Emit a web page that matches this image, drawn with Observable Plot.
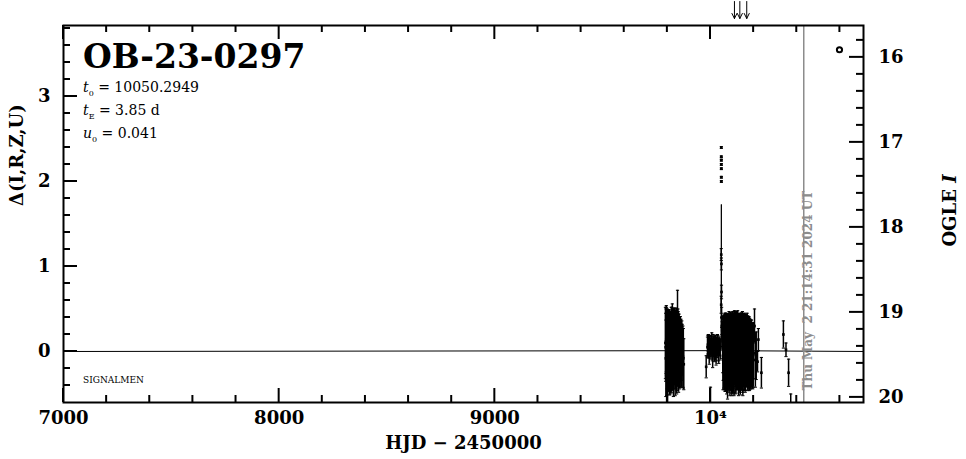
<!DOCTYPE html>
<html><head><meta charset="utf-8">
<script src="https://cdn.jsdelivr.net/npm/d3@7"></script>
<script src="https://cdn.jsdelivr.net/npm/@observablehq/plot@0.6"></script>
<style>
html,body{margin:0;padding:0;background:#fff;color:#000;}
svg{display:block;}
</style></head><body><div id="chart"></div>
<script>
// ---- labels / text ----
const eventName = "OB-23-0297";
const paramT0 = "10050.2949";
const paramTE = "3.85 d";
const paramU0 = "0.041";
const surveyTag = "SIGNALMEN";
const nowHJD = 10432.4;
const nowLabel = "Thu May  2 21:14:31 2024 UT";
const xTitle = "HJD \u2212 2450000";
const yTitle = "\u0394(I,R,Z,U)";
const baseMag = 19.46;

// ---- ticks ----
const xMajor = [7000, 8000, 9000, 10000];
const xLabels = ["7000", "8000", "9000", "10\u2074"];
const yMajor = [0, 1, 2, 3];
const yLabels = ["0", "1", "2", "3"];
const magMajor = [16, 17, 18, 19, 20];
const magLabels = ["16", "17", "18", "19", "20"];

// ---- observations: HJD-2450000, Delta, error ----
const obsHJD = [
 9791,9792,9793,9794,9795,9796,9797,9798,9799,9800,9801,9802,9803,9804,9805,9806,9807,9808,9809,9810,9811,
 9812,9813,9814,9815,9816,9817,9818,9819,9820,9821,9822,9823,9824,9825,9826,9827,9828,9829,9830,9831,9832,9833,
 9834,9835,9836,9837,9838,9839,9840,9841,9842,9843,9844,9845,9846,9847,9848,9849,9850,9851,9852,9854,9855,9857,9858,
 9860,9861,9863,9865,9867,9869,9872,9874,9876,
 9980,10000,9986,9988,9990,9992,9994,9996,9998,10000,10002,10004,10006,10008,10010,10012,10014,10016,10018,10020,10022,10024,
 10026,10028,10030,10032,10034,10036,10038,10040,10042,10045,
 10050.1,10050.15,10050.2,10050.25,10050.3,10050.35,10050.4,
 10049.6,10049.9,10050.6,10051.0,10051.5,
 10053,10054,10055,10056,10057,10058,10059,10060,10061,10062,10063,10064,10065,10066,10067,10068,10069,10070,10071,10072,
 10073,10074,10075,10076,10077,10078,10079,10080,10081,10082,10083,10084,10085,10086,10087,10088,10089,10090,10091,10092,
 10093,10094,10095,10096,10097,10098,10099,10100,10101,10102,10103,10104,10105,10106,10107,10108,10109,10110,10111,10112,
 10113,10114,10115,10116,10117,10118,10119,10120,10121,10122,10123,10124,10125,10126,10127,10128,10129,10130,10131,10132,
 10133,10134,10135,10136,10137,10138,10139,10140,10141,10142,10143,10144,10145,10146,10147,10148,10149,10150,10151,10152,
 10153,10154,10155,10156,10157,10158,10159,10160,10161,10162,10163,10164,10165,10166,10167,10168,10169,10170,10171,10172,
 10173,10174,10175,10176,10177,10178,10179,10180,10182,10184,10186,10188,10190,10192,10194,10196,10198,10200,
 10204,10208,10212,10218,10222,10236,
 10338,10350,10362,10372
];
const obsDelta = [
 0.10,0.05,-0.08,0.12,0.15,0.12,-0.05,0.10,0.00,0.15,-0.10,0.06,0.03,0.11,-0.04,0.09,0.01,0.13,-0.07,0.04,0.10,
 -0.02,0.07,0.00,0.12,-0.06,0.05,0.02,0.14,-0.03,0.08,0.01,0.10,-0.05,0.06,0.03,0.11,-0.08,0.04,0.09,0.05,0.00,0.08,
 0.07,0.02,-0.04,0.06,0.12,0.01,0.02,0.09,0.06,-0.03,-0.06,0.05,0.10,0.45,0.03,0.06,0.08,0.01,-0.02,0.04,0.05,-0.03,0.00,
 0.03,0.04,-0.02,-0.05,0.01,0.02,-0.06,-0.08,-0.15,
 -0.18,-0.80,0.05,0.08,0.10,0.04,-0.02,0.06,0.08,0.05,0.03,0.07,0.12,0.02,-0.05,0.09,0.06,0.03,0.00,0.08,0.09,0.01,
 -0.03,0.06,0.04,0.10,0.07,0.02,-0.01,0.06,0.05,0.02,
 2.40,2.29,2.25,2.20,2.15,2.05,2.00,
 0.55,1.14,1.03,0.70,0.40,
 0.30,0.25,0.18,0.12,0.05,-0.05,0.04,0.02,0.08,-0.01,-0.03,0.05,0.03,0.00,0.07,-0.04,-0.06,0.04,0.06,0.01,
 0.09,0.02,-0.04,0.06,0.00,0.02,-0.08,0.05,0.08,0.00,0.03,0.05,-0.03,0.06,0.10,-0.01,0.02,-0.05,0.07,0.04,
 0.03,-0.02,0.08,0.11,0.01,-0.04,-0.06,0.06,0.02,0.04,-0.01,0.05,0.09,-0.03,0.00,0.05,-0.07,0.03,0.08,0.02,
 0.06,-0.03,0.10,0.01,0.04,-0.05,0.07,0.07,0.01,0.03,0.06,-0.02,0.05,0.09,-0.01,0.03,0.06,-0.04,0.02,0.08,
 0.04,0.00,-0.03,0.05,0.08,-0.06,0.02,0.07,0.00,0.02,0.05,-0.01,0.03,0.10,0.06,0.03,-0.02,-0.05,0.04,0.01,
 0.06,0.03,-0.02,0.01,0.05,0.00,0.04,-0.01,-0.03,-0.02,0.07,0.03,0.08,0.04,0.01,0.00,-0.02,0.02,0.05,-0.01,
 -0.02,0.03,-0.01,0.03,0.00,-0.04,0.02,-0.06,-0.03,0.02,-0.04,0.00,-0.03,0.00,-0.05,-0.08,-0.04,-0.02,
 0.30,-0.10,-0.05,-0.12,0.14,-0.25,
 0.20,0.02,-0.25,-0.80
];
const obsErr = [
 0.42,0.40,0.45,0.38,0.39,0.40,0.47,0.36,0.44,0.35,0.50,0.40,0.46,0.33,0.42,0.39,0.48,0.36,0.44,0.41,0.37,
 0.49,0.40,0.45,0.34,0.43,0.42,0.50,0.33,0.40,0.44,0.38,0.46,0.41,0.37,0.47,0.35,0.45,0.40,0.42,0.43,0.39,0.41,
 0.44,0.46,0.48,0.40,0.36,0.45,0.41,0.38,0.45,0.47,0.40,0.42,0.37,0.27,0.43,0.44,0.39,0.42,0.46,0.40,0.36,0.41,0.41,
 0.38,0.33,0.40,0.37,0.35,0.30,0.36,0.35,0.30,
 0.13,0.38,0.12,0.11,0.10,0.12,0.13,0.12,0.11,0.10,0.12,0.11,0.10,0.13,0.14,0.11,0.11,0.12,0.12,0.10,0.10,0.12,
 0.13,0.11,0.11,0.10,0.12,0.13,0.13,0.11,0.10,0.12,
 0.01,0.01,0.01,0.01,0.01,0.01,0.01,
 0.10,0.07,0.07,0.08,0.12,
 0.10,0.10,0.12,0.20,0.30,0.40,0.38,0.36,0.33,0.42,0.42,0.38,0.40,0.45,0.34,0.43,0.41,0.37,0.39,0.44,
 0.32,0.41,0.46,0.35,0.44,0.40,0.48,0.39,0.36,0.43,0.40,0.39,0.45,0.41,0.33,0.44,0.41,0.47,0.36,0.42,
 0.40,0.44,0.36,0.32,0.42,0.45,0.46,0.37,0.43,0.41,0.48,0.40,0.34,0.45,0.43,0.38,0.45,0.42,0.40,0.36,
 0.38,0.47,0.33,0.42,0.42,0.44,0.38,0.38,0.46,0.41,0.35,0.43,0.40,0.39,0.44,0.41,0.36,0.48,0.42,0.34,
 0.38,0.42,0.45,0.38,0.35,0.45,0.43,0.36,0.44,0.43,0.40,0.45,0.39,0.35,0.37,0.44,0.46,0.47,0.40,0.42,
 0.37,0.39,0.44,0.42,0.39,0.45,0.38,0.44,0.45,0.44,0.34,0.40,0.34,0.39,0.41,0.41,0.40,0.43,0.36,0.40,
 0.44,0.38,0.42,0.38,0.40,0.40,0.39,0.40,0.42,0.35,0.40,0.37,0.40,0.33,0.38,0.36,0.38,0.30,
 0.20,0.32,0.28,0.12,0.13,0.18,
 0.16,0.08,0.16,0.30
];

// ---- model curve ----
const modelHJD = [7000, 10046, 10048, 10049.5, 10050.29, 10051, 10052.5, 10055, 10710];
const modelDelta = [0, 0.01, 0.05, 0.40, 1.73, 0.40, 0.05, 0.01, 0];

// ---- alerts / prediction marker ----
const alertHJD = [10111, 10136, 10168];
const predHJD = [10598];
const predDelta = [3.55];

// ---- layout ----
const W = 966, H = 459;
const mL = 63, mR = 103, mT = 25, mB = 57;
const FW = W - mL - mR, FH = H - mT - mB;
const FONT = "DejaVu Serif";
const xDom = [7000, 10709.4], yDom = [-0.6, 3.835];
const LMAJ = 14, LMIN = 7;              // tick lengths in px

const obs = obsHJD.map((t, i) => ({t, d: obsDelta[i], e: obsErr[i]}));
const model = modelHJD.map((t, i) => ({t, d: modelDelta[i]}));
const pred = predHJD.map((t, i) => ({t, d: predDelta[i]}));

const capSymbol = {draw(ctx, size) { const w = Math.sqrt(size / Math.PI); ctx.moveTo(-w, 0); ctx.lineTo(w, 0); }};
const arrowShape = {draw(ctx, l) { ctx.moveTo(0, 0); ctx.lineTo(0, -l); ctx.moveTo(-2.5, -l + 5); ctx.lineTo(0, -l); ctx.lineTo(2.5, -l + 5); }};

const xMinor = d3.range(7200, 10700, 200).filter(v => v % 1000 !== 0);
const yMinor = d3.range(-4, 39, 2).map(v => v / 10).filter(v => v % 1 !== 0);
const magMinor = d3.range(158, 201, 2).map(v => v / 10).filter(v => v % 1 !== 0);
const m2d = m => baseMag - m;

const svg = Plot.plot({
  width: W, height: H,
  marginLeft: mL, marginRight: mR, marginTop: mT, marginBottom: mB,
  x: {domain: xDom, axis: null},
  y: {domain: yDom, axis: null},
  style: {fontFamily: FONT, background: "white", color: "black", overflow: "visible"},
  marks: [
    // error bars
    Plot.ruleX(obs, {x: "t", y1: d => d.d - d.e, y2: d => d.d + d.e, stroke: "black", strokeWidth: 1.5, clip: true}),
    Plot.dot(obs, {x: "t", y: d => d.d + d.e, symbol: capSymbol, r: 1.6, stroke: "black", strokeWidth: 1, clip: true}),
    Plot.dot(obs, {x: "t", y: d => d.d - d.e, symbol: capSymbol, r: 1.6, stroke: "black", strokeWidth: 1, clip: true}),
    Plot.dot(obs, {x: "t", y: "d", symbol: "square", r: 1.5, fill: "black", clip: true}),
    // model
    Plot.line(model, {x: "t", y: "d", stroke: "black", strokeWidth: 1, clip: true}),
    // now line
    Plot.ruleX([nowHJD], {x: d => d, stroke: "#8c8c8c", strokeWidth: 1.5}),
    Plot.text([nowLabel], {x: () => nowHJD, frameAnchor: "bottom", rotate: -90, textAnchor: "start", dx: 8, dy: -12,
      fill: "#8c8c8c", fontSize: 12, fontWeight: "bold", fontFamily: "DejaVu Serif"}),
    // prediction circle
    Plot.dot(pred, {x: "t", y: "d", r: 2.6, stroke: "black", strokeWidth: 2, fill: "none"}),
    // alert arrows
    Plot.vector(alertHJD, {x: d => d, frameAnchor: "top", length: 17, rotate: 180, anchor: "start", dy: -24,
      shape: arrowShape, stroke: "black", strokeWidth: 1}),
    // tick labels
    Plot.text(xMajor, {x: d => d, text: (d, i) => xLabels[i], frameAnchor: "bottom", dy: 21,
      fontSize: 18, fontWeight: "bold", fill: "black"}),
    Plot.text(yMajor, {y: d => d, text: (d, i) => yLabels[i], frameAnchor: "left", dx: -13, textAnchor: "end",
      fontSize: 18, fontWeight: "bold", fill: "black"}),
    Plot.text(magMajor, {y: m2d, text: (d, i) => magLabels[i], frameAnchor: "right", dx: 15, textAnchor: "start",
      fontSize: 18, fontWeight: "bold", fill: "black"}),
    // axis titles
    Plot.text([xTitle], {frameAnchor: "bottom", dy: 46, fontSize: 18, fontWeight: "bold", fill: "black"}),
    Plot.text([yTitle], {frameAnchor: "left", dx: -46, dy: -8, rotate: -90, fontSize: 18, fontWeight: "bold", fill: "black"}),
    // frame
    Plot.frame({stroke: "black", strokeWidth: 2})
  ]
});
document.getElementById("chart").appendChild(svg);

// inward ticks placed through the plot's own scales
const s = d3.select(svg);
const sx = svg.scale("x"), sy = svg.scale("y");
const tg = s.append("g").attr("stroke", "black").attr("stroke-width", 2).attr("fill", "none");
const x0 = mL, x1 = mL + FW, y0 = mT, y1 = mT + FH;
function seg(a, b, c, d) { tg.append("line").attr("x1", a).attr("y1", b).attr("x2", c).attr("y2", d); }
for (const [vals, len] of [[xMajor, LMAJ], [xMinor, LMIN]]) for (const v of vals) {
  const px = sx.apply(v);
  seg(px, y1, px, y1 - len);
  seg(px, y0, px, y0 + len);
}
for (const [vals, len] of [[yMajor, LMAJ], [yMinor, LMIN]]) for (const v of vals) {
  const py = sy.apply(v);
  seg(x0, py, x0 + len, py);
}
for (const [vals, len] of [[magMajor, LMAJ], [magMinor, LMIN]]) for (const v of vals) {
  const py = sy.apply(m2d(v));
  seg(x1, py, x1 - len, py);
}

// rich text annotations
s.append("text").attr("x", mL + 20).attr("y", mT + 43).attr("text-anchor", "start")
  .attr("font-family", FONT).attr("font-weight", "bold").attr("font-size", 33).attr("fill", "black")
  .text(eventName);
function param(sym, sub, val, row) {
  const t = s.append("text").attr("x", mL + 20).attr("y", mT + 67 + row * 23).attr("text-anchor", "start")
    .attr("font-family", FONT).attr("font-size", 14).attr("fill", "black");
  t.append("tspan").attr("font-style", "italic").text(sym);
  t.append("tspan").attr("font-size", 8).attr("dy", 4).text(sub);
  t.append("tspan").attr("dy", -4).text(" = " + val);
}
param("t", "0", paramT0, 0);
param("t", "E", paramTE, 1);
param("u", "0", paramU0, 2);
s.append("text").attr("x", mL + 20).attr("y", H - mB - 19).attr("text-anchor", "start")
  .attr("font-family", FONT).attr("font-size", 9).attr("fill", "black").text(surveyTag);
const ogle = s.append("text").attr("transform", `translate(${W - 10},${mT + FH / 2 - 3}) rotate(-90)`)
  .attr("text-anchor", "middle").attr("font-family", FONT).attr("font-weight", "bold")
  .attr("font-size", 18).attr("fill", "black");
ogle.append("tspan").text("OGLE ");
ogle.append("tspan").attr("font-style", "italic").text("I");
</script></body></html>
